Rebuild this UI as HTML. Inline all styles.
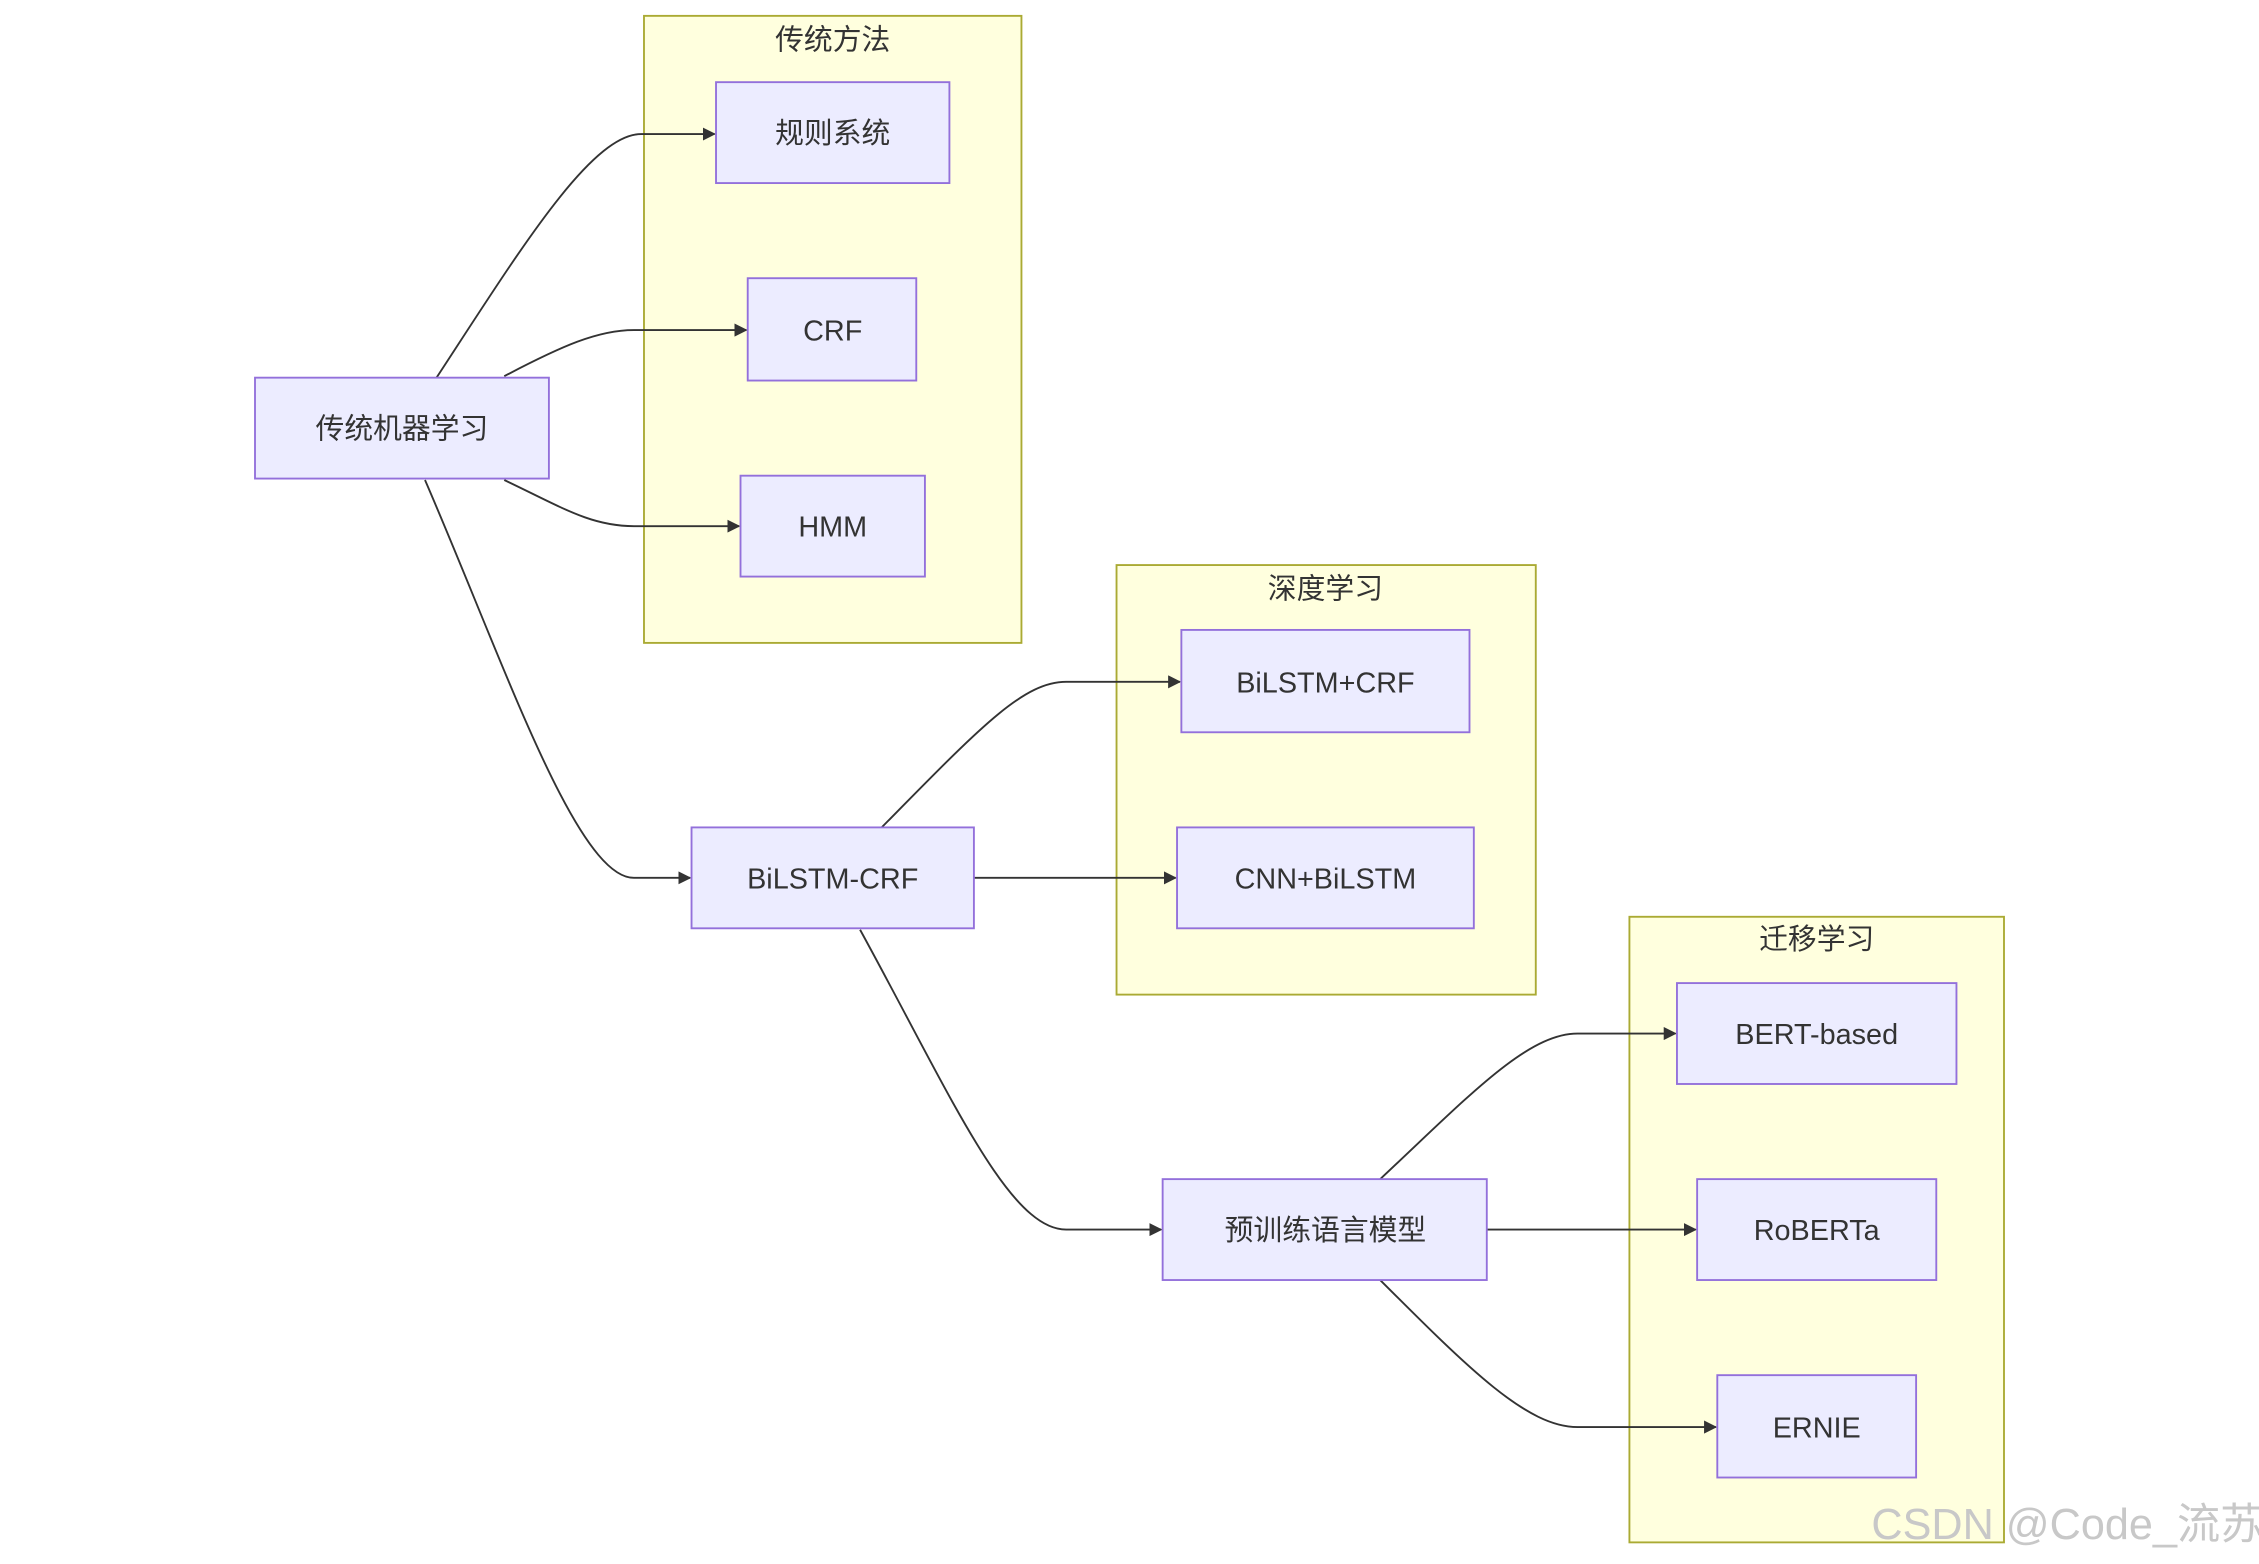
<!DOCTYPE html>
<html><head><meta charset="utf-8"><style>
html,body{margin:0;padding:0;background:#fff;width:2259px;height:1564px;overflow:hidden}
svg{display:block}
text{font-family:"Liberation Sans","Noto Sans CJK SC",sans-serif;font-size:20px;fill:#333;text-anchor:middle;dominant-baseline:central}
.n{fill:#ECECFF;stroke:#9370DB;stroke-width:1.3}
.c{fill:#FFFFDE;stroke:#AAAA33;stroke-width:1.3}
.e{fill:none;stroke:#333;stroke-width:1.3;marker-end:url(#a)}
</style></head><body>
<svg width="2259" height="1564" viewBox="0 0 1568 1085" preserveAspectRatio="none">
<defs><marker id="a" viewBox="0 0 10 10" refX="9" refY="5" markerWidth="7" markerHeight="7" orient="auto"><path d="M0,0L10,5L0,10z" fill="#333"/></marker></defs>
<rect class="c" x="447" y="11" width="262" height="435"/>
<text x="578" y="28">传统方法</text>
<rect class="c" x="775" y="392" width="291" height="298"/>
<text x="920" y="409">深度学习</text>
<rect class="c" x="1131" y="636" width="260" height="434"/>
<text x="1261" y="652">迁移学习</text>

<path class="e" d="M303,262 C360,175 410,93 445,93 L496,93"/>
<path class="e" d="M350,261 C390,240 415,229 440,229 L518,229"/>
<path class="e" d="M350,333 C390,352 410,365 440,365 L513,365"/>
<path class="e" d="M295,333 C350,460 400,609 440,609 L479,609"/>
<path class="e" d="M612,574 C680,505 710,473 740,473 L819,473"/>
<path class="e" d="M676,609 L816,609"/>
<path class="e" d="M597,645 C660,760 700,853 740,853 L806,853"/>
<path class="e" d="M958,818 C1020,760 1060,717 1095,717 L1163,717"/>
<path class="e" d="M1032,853 L1177,853"/>
<path class="e" d="M958,888 C1020,950 1060,990 1095,990 L1191,990"/>

<rect class="n" x="497" y="57" width="162" height="70"/><text x="578" y="93">规则系统</text>
<rect class="n" x="519" y="193" width="117" height="71"/><text x="578" y="230">CRF</text>
<rect class="n" x="514" y="330" width="128" height="70"/><text x="578" y="366">HMM</text>
<rect class="n" x="177" y="262" width="204" height="70"/><text x="279" y="298">传统机器学习</text>
<rect class="n" x="820" y="437" width="200" height="71"/><text x="920" y="474">BiLSTM+CRF</text>
<rect class="n" x="817" y="574" width="206" height="70"/><text x="920" y="610">CNN+BiLSTM</text>
<rect class="n" x="480" y="574" width="196" height="70"/><text x="578" y="610">BiLSTM-CRF</text>
<rect class="n" x="1164" y="682" width="194" height="70"/><text x="1261" y="718">BERT-based</text>
<rect class="n" x="1178" y="818" width="166" height="70"/><text x="1261" y="854">RoBERTa</text>
<rect class="n" x="1192" y="954" width="138" height="71"/><text x="1261" y="991">ERNIE</text>
<rect class="n" x="807" y="818" width="225" height="70"/><text x="920" y="854">预训练语言模型</text>
<text x="1435" y="1058" style="font-size:30px;fill:#c8c8c8">CSDN @Code_流苏</text>
</svg>
</body></html>
